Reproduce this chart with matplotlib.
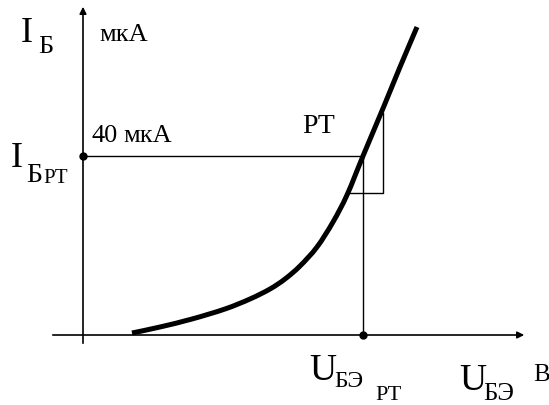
import numpy as np
import matplotlib
matplotlib.use("Agg")
import matplotlib.pyplot as plt
from matplotlib.path import Path
from matplotlib.patches import PathPatch

# input characteristic (pixel coords, y down)
curve_x = [132, 160, 192, 225, 250, 270, 285, 300, 317, 333, 347, 363, 384, 400, 417]
curve_y = [333, 327, 319, 309, 299, 289, 279, 266, 247, 222, 195, 156, 106, 67, 27]

# working point and tangent triangle
wp_x, wp_y = 363, 156
axis_y = 335
tri_x = [348, 383, 383]
tri_y = [193, 193, 113]


def smooth_path(xs, ys):
    # Catmull-Rom through the read points, as cubic Bezier segments
    p = np.column_stack([xs, ys]).astype(float)
    verts = [p[0]]
    codes = [Path.MOVETO]
    for i in range(len(p) - 1):
        p0 = p[i - 1] if i > 0 else p[i]
        p3 = p[i + 2] if i + 2 < len(p) else p[i + 1]
        c1 = p[i] + (p[i + 1] - p0) / 6
        c2 = p[i + 1] - (p3 - p[i]) / 6
        verts += [c1, c2, p[i + 1]]
        codes += [Path.CURVE4] * 3
    return Path(verts, codes)


plt.rcParams['font.family'] = ['Liberation Serif', 'DejaVu Serif']

fig = plt.figure(figsize=(5.49, 4.05), dpi=100)
ax = fig.add_axes([0, 0, 1, 1])
ax.set_xlim(0, 549)
ax.set_ylim(405, 0)
ax.axis('off')

# axes with arrows
ax.annotate('', xy=(83, 4), xytext=(83, 346),
            arrowprops=dict(arrowstyle='-|>', lw=1.2, color='black', mutation_scale=10))
ax.annotate('', xy=(527, axis_y), xytext=(50, axis_y),
            arrowprops=dict(arrowstyle='-|>', lw=1.2, color='black', mutation_scale=10))

# guide lines to working point
ax.plot([83, wp_x], [wp_y, wp_y], color='black', lw=1.0)
ax.plot([wp_x, wp_x], [wp_y, axis_y], color='black', lw=1.0)
ax.plot(tri_x, tri_y, color='black', lw=1.0)
ax.plot([83, wp_x], [wp_y, axis_y], 'o', color='black', ms=5)

# characteristic
ax.add_patch(PathPatch(smooth_path(curve_x, curve_y), facecolor='none',
                       edgecolor='black', lw=3.6, capstyle='butt'))

# labels
ax.text(21, 42, 'I', fontsize=26)
ax.text(38, 53, 'Б', fontsize=19)
ax.text(99, 41, 'мкА', fontsize=19)
ax.text(91, 142, '40', fontsize=19)
ax.text(123, 142, 'мкА', fontsize=19)
ax.text(11, 167, 'I', fontsize=26)
ax.text(26, 182, 'Б', fontsize=20)
ax.text(43, 183, 'РТ', fontsize=15)
ax.text(302, 133, 'РТ', fontsize=20)
ax.text(309, 380, 'U', fontsize=27)
ax.text(334, 387, 'БЭ', fontsize=17)
ax.text(375, 400, 'РТ', fontsize=16)
ax.text(459, 390, 'U', fontsize=27)
ax.text(483, 400, 'БЭ', fontsize=18)
ax.text(533, 381, 'В', fontsize=18)

fig.savefig('out.png', dpi=100)
